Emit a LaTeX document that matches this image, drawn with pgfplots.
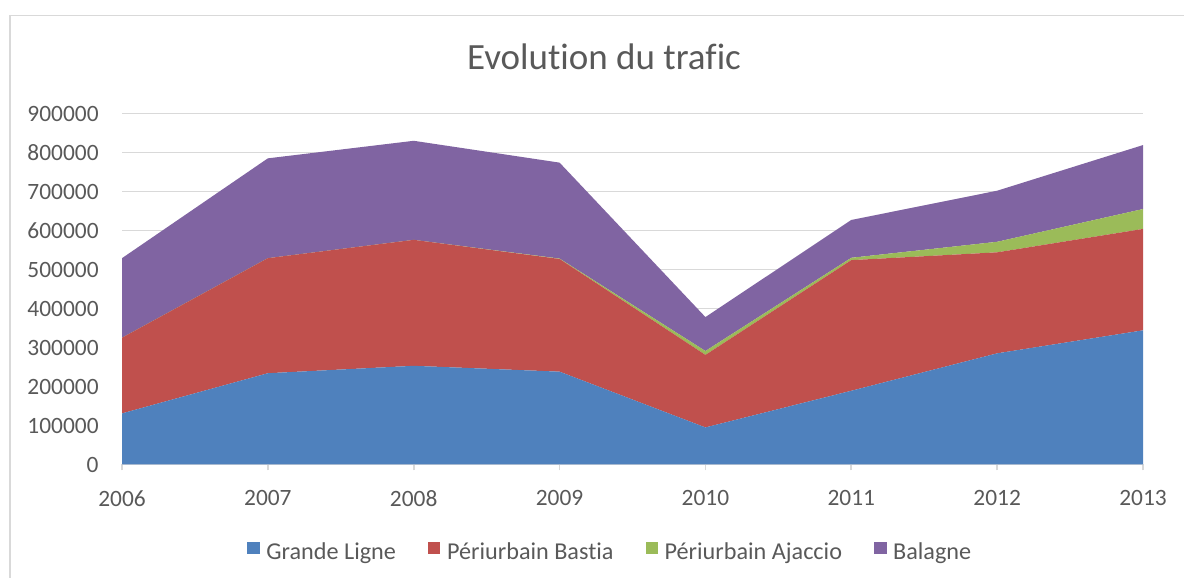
\documentclass[border=0pt]{standalone}
\usepackage{fontspec}
\setmainfont[Ligatures={NoCommon}]{Carlito}
\usepackage{pgfplots}
\pgfplotsset{compat=1.18}
\usetikzlibrary{calc}
\definecolor{cblue}{HTML}{4F81BD}
\definecolor{cred}{HTML}{C0504D}
\definecolor{cgreen}{HTML}{9BBB59}
\definecolor{cpurple}{HTML}{8064A2}
\definecolor{cgray}{HTML}{595959}
\definecolor{gridgray}{HTML}{D9D9D9}
\begin{document}
\begin{tikzpicture}
\begin{axis}[name=ax, at={(0,0)}, anchor=south west,
  scale only axis, width=510.5bp, height=175.5bp,
  xmin=2006, xmax=2013, ymin=0, ymax=900000,
  stack plots=y,
  xtick={2006,2007,2008,2009,2010,2011,2012,2013},
  ytick={0,100000,200000,300000,400000,500000,600000,700000,800000,900000},
  scaled y ticks=false,
  /pgf/number format/.cd, assume math mode=true, 1000 sep={}, fixed, /pgfplots/.cd,
  axis lines*=left,
  axis line style={-},
  y axis line style={draw=none},
  x axis line style={draw=gridgray, line width=0.8bp},
  ytick style={draw=none},
  xtick style={draw=gridgray, line width=0.8bp},
  xtick align=outside,
  major tick length=3bp,
  ymajorgrids,
  grid style={draw=gridgray, line width=0.7bp},
  tick label style={font=\fontsize{11.7bp}{14bp}\selectfont, text=cgray, inner sep=0pt},
  yticklabel style={anchor=east, xshift=-11.5bp},
  xticklabel style={anchor=north, yshift=-9.75bp},
  legend columns=4,
  legend image code/.code={\path[#1, draw=none] (0bp,-0.6bp) rectangle (6.25bp,5.55bp);},
  legend style={at={(0.1227,-0.2188)}, anchor=north west, draw=none, fill=none,
    inner sep=0pt, outer sep=0pt, column sep=3.3bp,
    /tikz/every even column/.append style={column sep=16bp},
    nodes={inner sep=0pt, text height=9bp, text depth=2.5bp},
    font=\fontsize{12.1bp}{14bp}\selectfont, text=cgray},
]
\addplot[fill=cblue, draw=none] coordinates {(2006,131000) (2007,234000) (2008,253000) (2009,238000) (2010,95000) (2011,189000) (2012,285000) (2013,344000)} \closedcycle;
\addlegendentry{Grande Ligne}
\addplot[fill=cred, draw=none] coordinates {(2006,194000) (2007,295000) (2008,323000) (2009,289000) (2010,186000) (2011,335000) (2012,259000) (2013,260000)} \closedcycle;
\addlegendentry{Périurbain Bastia}
\addplot[fill=cgreen, draw=none] coordinates {(2006,0) (2007,0) (2008,0) (2009,1000) (2010,10000) (2011,6000) (2012,27000) (2013,51000)} \closedcycle;
\addlegendentry{Périurbain Ajaccio}
\addplot[fill=cpurple, draw=none] coordinates {(2006,204000) (2007,256000) (2008,254000) (2009,246000) (2010,87000) (2011,97000) (2012,131000) (2013,164000)} \closedcycle;
\addlegendentry{Balagne}
\end{axis}
\node[anchor=base, font=\fontsize{18.5bp}{22bp}\selectfont, text=cgray, inner sep=0pt] at ($(ax.north west)+(241bp,21.75bp)$) {Evolution du trafic};
\coordinate (BL) at ($(ax.south west)+(-61bp,-56.75bp)$);
\coordinate (TR) at ($(ax.north east)+(20.5bp,56.75bp)$);
\draw[gridgray, line width=0.8bp] ($(BL)+(5bp,0)$) |- ($(TR)+(0,-7.85bp)$);
\pgfresetboundingbox
\path[use as bounding box] (BL) rectangle (TR);
\end{tikzpicture}
\end{document}
